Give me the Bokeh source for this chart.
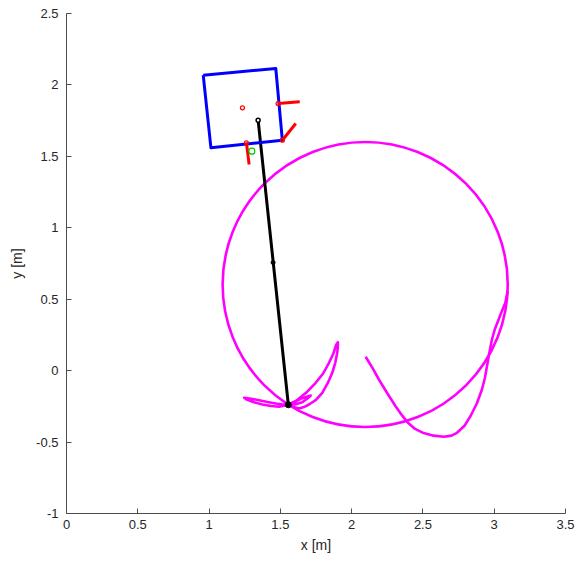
from bokeh.plotting import figure
from bokeh.models import Range1d, FixedTicker, CustomJSTickFormatter
from bokeh.embed import file_html
from bokeh.resources import INLINE

# ---- data (metres) ----
# main circular path: centre and radius
circle_cx = [2.095]
circle_cy = [0.603]
circle_r = [1.0]

start_x = [2.098, 2.150, 2.191, 2.250, 2.308, 2.355, 2.395, 2.445, 2.505, 2.575, 2.646,
           2.700, 2.739, 2.790, 2.833, 2.878, 2.914, 2.935, 2.949, 2.966, 2.984, 3.005,
           3.031, 3.055, 3.078, 3.095]
start_y = [0.097, 0.012, -0.062, -0.158, -0.249, -0.315, -0.365, -0.408, -0.437, -0.455, -0.463,
           -0.455, -0.435, -0.388, -0.319, -0.230, -0.132, -0.050, 0.031, 0.125, 0.218, 0.292,
           0.358, 0.420, 0.475, 0.560]

petal_big_x = [1.556, 1.608, 1.680, 1.748, 1.800, 1.841, 1.872, 1.892, 1.904, 1.903, 1.899,
               1.885, 1.864, 1.832, 1.794, 1.750, 1.701, 1.665, 1.631, 1.590, 1.556]
petal_big_y = [-0.239, -0.214, -0.155, -0.085, -0.020, 0.055, 0.120, 0.183, 0.199, 0.165, 0.125,
               0.055, -0.015, -0.088, -0.155, -0.205, -0.237, -0.255, -0.265, -0.255, -0.239]

petal_left_x = [1.556, 1.510, 1.468, 1.410, 1.351, 1.295, 1.246, 1.260, 1.310, 1.374, 1.435, 1.491, 1.556]
petal_left_y = [-0.239, -0.236, -0.230, -0.220, -0.207, -0.197, -0.190, -0.200, -0.220, -0.237, -0.248, -0.253, -0.239]

petal_small_x = [1.556, 1.600, 1.643, 1.713, 1.690, 1.654, 1.600, 1.556]
petal_small_y = [-0.239, -0.218, -0.197, -0.174, -0.195, -0.221, -0.237, -0.239]

bar_x = [1.556, 1.344]
bar_y = [-0.239, 1.753]
bar_mid_x = [1.449]
bar_mid_y = [0.757]

box_x = [0.959, 1.468, 1.514, 1.013, 0.959]
box_y = [2.068, 2.115, 1.613, 1.560, 2.068]

box_center_x = [1.234]
box_center_y = [1.840]

leg1_x = [1.484, 1.636]
leg1_y = [1.870, 1.882]
leg2_x = [1.514, 1.608]
leg2_y = [1.613, 1.730]
leg3_x = [1.262, 1.281]
leg3_y = [1.595, 1.443]
leg_joint_x = [1.484, 1.514, 1.262]
leg_joint_y = [1.870, 1.613, 1.595]

target_x = [1.300]
target_y = [1.536]

x_ticks = [0, 0.5, 1, 1.5, 2, 2.5, 3, 3.5]
y_ticks = [-1, -0.5, 0, 0.5, 1, 1.5, 2, 2.5]

# ---- figure ----
p = figure(width=577, height=557, output_backend="svg", toolbar_location=None,
           x_range=Range1d(0, 3.5), y_range=Range1d(-1, 2.5),
           min_border_left=66, min_border_right=12, min_border_top=13, min_border_bottom=44)
p.outline_line_color = None
p.grid.visible = False
p.background_fill_color = "white"

fmt = CustomJSTickFormatter(code="return String(Math.round(tick*10)/10);")
for ax, ticks, lab in ((p.xaxis[0], x_ticks, "x [m]"), (p.yaxis[0], y_ticks, "y [m]")):
    ax.ticker = FixedTicker(ticks=ticks)
    ax.formatter = fmt
    ax.axis_label = lab
    ax.axis_line_color = "#4d4d4d"
    ax.major_tick_line_color = "#4d4d4d"
    ax.major_tick_in = 5
    ax.major_tick_out = 0
    ax.minor_tick_line_color = None
    ax.major_label_text_font = "Liberation Sans"
    ax.major_label_text_font_size = "13px"
    ax.major_label_text_color = "#262626"
    ax.axis_label_text_font = "Liberation Sans"
    ax.axis_label_text_font_size = "14px"
    ax.axis_label_text_font_style = "normal"
    ax.axis_label_text_color = "#262626"
p.xaxis.major_label_standoff = 6
p.yaxis.major_label_standoff = 8
p.xaxis.axis_label_standoff = 5
p.yaxis.axis_label_standoff = 8

mag = "#ff00ff"
p.circle(x=circle_cx, y=circle_cy, radius=circle_r, fill_color=None,
         line_color=mag, line_width=2.6)
for xs, ys in ((start_x, start_y), (petal_big_x, petal_big_y),
               (petal_left_x, petal_left_y), (petal_small_x, petal_small_y)):
    p.line(xs, ys, line_color=mag, line_width=2.6, line_join="round")

p.line(bar_x, bar_y, line_color="black", line_width=3)
p.scatter(bar_x[:1], bar_y[:1], size=6, color="black")
p.scatter(bar_x[1:], bar_y[1:], size=4, fill_color="white", line_color="black", line_width=1.5)
p.scatter(bar_mid_x, bar_mid_y, size=4, color="black")

p.line(box_x, box_y, line_color="#0000ff", line_width=3, line_join="round")
p.scatter(box_center_x, box_center_y, size=4, fill_color=None, line_color="red", line_width=1.2)
for lx, ly in ((leg1_x, leg1_y), (leg2_x, leg2_y), (leg3_x, leg3_y)):
    p.line(lx, ly, line_color="red", line_width=3)
p.scatter(leg_joint_x, leg_joint_y, size=4, fill_color=None, line_color="red", line_width=1.2)
p.scatter(target_x, target_y, size=6, fill_color=None, line_color="#00cc00", line_width=1.2)

open("out.html", "w").write(file_html(p, INLINE))
